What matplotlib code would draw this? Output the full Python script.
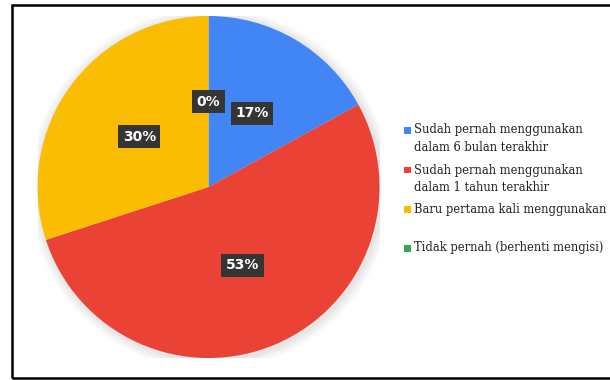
import numpy as np
import matplotlib.pyplot as plt
from matplotlib.patches import Rectangle, Circle

# data
labels = [
    "Sudah pernah menggunakan\ndalam 6 bulan terakhir",
    "Sudah pernah menggunakan\ndalam 1 tahun terakhir",
    "Baru pertama kali menggunakan",
    "Tidak pernah (berhenti mengisi)",
]
values = [17, 53, 30, 0]
colors = ["#4285F4", "#EA4335", "#FBBC04", "#34A853"]

W, H = 610, 380
fig = plt.figure(figsize=(W / 100, H / 100), dpi=100)

# pie axes: centre ~(208, 187) px, radius ~171 px
r = 171
cx, cy = 208.5, 187
ax = fig.add_axes([(cx - r) / W, (H - cy - r) / H, 2 * r / W, 2 * r / H])

# soft shadow behind the pie
for k, a in enumerate([0.025, 0.025, 0.02, 0.02, 0.015]):
    ax.add_patch(Circle((0.01, -0.01), 1.0 + 0.012 * (k + 1), color="black",
                        alpha=a, lw=0, zorder=0))

wedges, texts = ax.pie(values, colors=colors, startangle=90, counterclock=False,
                       radius=1.0, wedgeprops=dict(linewidth=0))
for w in wedges:
    w.set_zorder(1)

total = sum(values)
start = 90.0
for v in values:
    span = 360.0 * v / total
    mid = np.deg2rad(start - span / 2)
    start -= span
    ax.text(0.5 * np.cos(mid), 0.5 * np.sin(mid), "%d%%" % round(100 * v / total),
            ha="center", va="center", color="white", fontsize=10, fontweight="bold",
            family="DejaVu Sans", zorder=5,
            bbox=dict(boxstyle="square,pad=0.32", fc="#353535", ec="none"))

ax.set_xlim(-1, 1)
ax.set_ylim(-1, 1)
ax.set_aspect("equal")
ax.axis("off")

# legend, drawn by hand so the marker sits on the first line
legend_y = [130, 170, 209, 248]
for lab, col, y in zip(labels, colors, legend_y):
    fig.add_artist(Rectangle((404 / W, 1 - (y + 3.5) / H), 7 / W, 7 / H,
                             transform=fig.transFigure, color=col, lw=0))
    fig.text(414 / W, 1 - (y - 6.5) / H, lab, ha="left", va="top",
             fontsize=8.3, family="DejaVu Serif", color="#222222",
             linespacing=1.45)

# outer frame
fig.add_artist(Rectangle((12 / W, 1 - 378 / H), 1.2, 373 / H,
                         transform=fig.transFigure, fill=False,
                         ec="black", lw=1.8))

fig.savefig("out.png", dpi=100)
